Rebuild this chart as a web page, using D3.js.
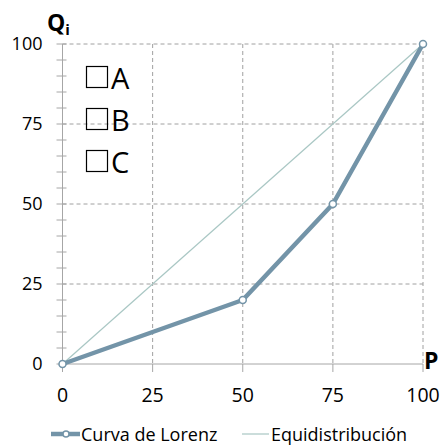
<!DOCTYPE html>
<html><head><meta charset="utf-8">
<script src="https://cdn.jsdelivr.net/npm/d3@7"></script>
<style>body{margin:0;background:#fff}svg{font-family:"Open Sans","Liberation Sans",sans-serif}</style>
</head><body><svg id="c" width="440" height="446"></svg>
<script>
const lorenzP = [0, 50, 75, 100];
const lorenzQ = [0, 20, 50, 100];
const equiP = [0, 100];
const equiQ = [0, 100];
const xTicks = [0, 25, 50, 75, 100];
const yTicks = [0, 25, 50, 75, 100];
const yMinor = d3.range(0, 101, 5);
const options = ["A", "B", "C"];
const legendNames = ["Curva de Lorenz", "Equidistribución"];

const svg = d3.select("#c");
const x = d3.scaleLinear().domain([0, 100]).range([62.5, 423]);
const y = d3.scaleLinear().domain([0, 100]).range([364, 44]);
const blue = "#7394a8", teal = "#a9c7c4", axisC = "#a6a6a6";

// grid
const g = svg.append("g");
g.selectAll("line.vg").data(xTicks.filter(d => d > 0)).join("line")
  .attr("x1", d => x(d)).attr("x2", d => x(d)).attr("y1", y(100)).attr("y2", y(0))
  .attr("stroke", "#a0a0a0").attr("stroke-dasharray", "4,3").attr("stroke-width", 1);
g.selectAll("line.hg").data(yTicks.filter(d => d > 0)).join("line")
  .attr("x1", x(0)).attr("x2", x(100)).attr("y1", d => y(d)).attr("y2", d => y(d))
  .attr("stroke", "#a0a0a0").attr("stroke-dasharray", "4,3").attr("stroke-width", 1);

// axes
svg.append("line").attr("x1", x(0)).attr("x2", x(100)).attr("y1", y(0)).attr("y2", y(0)).attr("stroke", axisC);
svg.append("line").attr("x1", x(0)).attr("x2", x(0)).attr("y1", y(0)).attr("y2", y(100)).attr("stroke", axisC);
svg.selectAll("line.ym").data(yMinor).join("line")
  .attr("x1", x(0) - 6).attr("x2", x(0) + 4).attr("y1", d => y(d)).attr("y2", d => y(d))
  .attr("stroke", axisC);
svg.selectAll("line.xm").data(xTicks).join("line")
  .attr("x1", d => x(d)).attr("x2", d => x(d)).attr("y1", y(0)).attr("y2", y(0) + 8)
  .attr("stroke", axisC);

// tick labels
svg.selectAll("text.yl").data(yTicks).join("text")
  .attr("x", x(0) - 20).attr("y", d => y(d)).attr("dy", "0.36em").attr("text-anchor", "end")
  .attr("font-size", 18).attr("fill", "#000").text(d => d);
svg.selectAll("text.xl").data(xTicks).join("text")
  .attr("x", d => x(d)).attr("y", 402).attr("text-anchor", "middle")
  .attr("font-size", 19.5).attr("fill", "#000").text(d => d);

// lines
const line = d3.line().x(d => x(d[0])).y(d => y(d[1]));
svg.append("path").datum(equiP.map((p, i) => [p, equiQ[i]])).attr("d", line)
  .attr("fill", "none").attr("stroke", teal).attr("stroke-width", 1.2);
const lz = lorenzP.map((p, i) => [p, lorenzQ[i]]);
svg.append("path").datum(lz).attr("d", line)
  .attr("fill", "none").attr("stroke", blue).attr("stroke-width", 4.5).attr("stroke-linejoin", "round");
svg.selectAll("circle.m").data(lz).join("circle")
  .attr("cx", d => x(d[0])).attr("cy", d => y(d[1])).attr("r", 3.5)
  .attr("fill", "#fff").attr("stroke", blue).attr("stroke-width", 1.5);

// axis titles
const qt = svg.append("text").attr("x", 47).attr("y", 31).attr("font-size", 23).attr("font-weight", "bold").attr("fill", "#000");
qt.append("tspan").text("Q");
qt.append("tspan").attr("font-size", 15).attr("dy", 4).text("i");
svg.append("text").attr("x", 424).attr("y", 369).attr("font-size", 23).attr("font-weight", "bold").attr("fill", "#000").text("P");

// option boxes
const og = svg.selectAll("g.opt").data(options).join("g")
  .attr("transform", (d, i) => `translate(0,${i * 42})`);
og.append("rect").attr("x", 86.5).attr("y", 66.5).attr("width", 21).attr("height", 21)
  .attr("fill", "none").attr("stroke", "#000").attr("stroke-width", 1.2);
og.append("text").attr("x", 111).attr("y", 88.5).attr("font-size", 29).attr("fill", "#000").text(d => d);

// legend
const lg = svg.append("g");
lg.append("line").attr("x1", 51).attr("x2", 80).attr("y1", 434).attr("y2", 434).attr("stroke", blue).attr("stroke-width", 4.5);
lg.append("circle").attr("cx", 66).attr("cy", 434).attr("r", 3).attr("fill", "#fff").attr("stroke", blue).attr("stroke-width", 1.5);
lg.append("text").attr("x", 81).attr("y", 441).attr("font-size", 18).attr("fill", "#000").text(legendNames[0]);
lg.append("line").attr("x1", 242).attr("x2", 269).attr("y1", 434).attr("y2", 434).attr("stroke", teal).attr("stroke-width", 1.2);
lg.append("text").attr("x", 271).attr("y", 441).attr("font-size", 18).attr("fill", "#000").text(legendNames[1]);
</script></body></html>
